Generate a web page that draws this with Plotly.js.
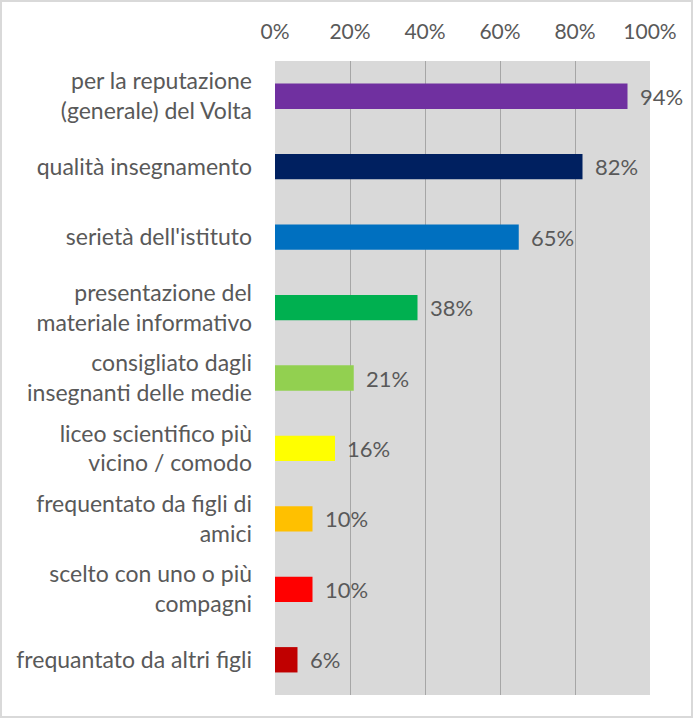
<!DOCTYPE html>
<html>
<head>
<meta charset="utf-8">
<script src="https://cdn.plot.ly/plotly-3.0.1.min.js"></script>
<style>
html,body{margin:0;padding:0;background:#fff;}
#chart{width:693px;height:718px;box-sizing:border-box;border:2px solid #d9d9d9;}
</style>
</head>
<body>
<div id="chart"></div>
<script>
const categories = [
  "per la reputazione<br>(generale) del Volta",
  "qualità insegnamento",
  "serietà dell'istituto",
  "presentazione del<br>materiale informativo",
  "consigliato dagli<br>insegnanti delle medie",
  "liceo scientifico più<br>vicino / comodo",
  "frequentato da figli di<br>amici",
  "scelto con uno o più<br>compagni",
  "frequantato da altri figli"
];
const values = [0.94, 0.82, 0.65, 0.38, 0.21, 0.16, 0.10, 0.10, 0.06];
const colors = ["#7030a0", "#002060", "#0070c0", "#00b050", "#92d050", "#ffff00", "#ffc000", "#ff0000", "#c00000"];
const tickVals = [0, 0.2, 0.4, 0.6, 0.8, 1.0];
const tickText = ["0%", "20%", "40%", "60%", "80%", "100%"];

const FONT = "Lato, 'Open Sans', sans-serif";
const GRAY = "#595959";

const trace = {
  type: "bar",
  orientation: "h",
  y: categories,
  x: values,
  marker: {color: colors, line: {width: 0}},
  width: 0.36,
  hoverinfo: "none"
};

const annotations = values.map((v, i) => ({
  x: v, y: categories[i], xref: "x", yref: "y",
  text: Math.round(v * 100) + "%",
  showarrow: false, xanchor: "left", xshift: 10,
  font: {family: FONT, size: 22, color: GRAY}
}));

const layout = {
  width: 689, height: 714,
  margin: {l: 273, r: 41, t: 59, b: 21},
  paper_bgcolor: "#ffffff",
  plot_bgcolor: "#d9d9d9",
  showlegend: false,
  xaxis: {
    side: "top", range: [0, 1],
    tickvals: tickVals, ticktext: tickText,
    showgrid: true, gridcolor: "#a6a6a6", gridwidth: 1,
    zeroline: false, showline: false, ticks: "",
    ticklabelstandoff: 17,
    tickfont: {family: FONT, size: 21, color: GRAY},
    fixedrange: true
  },
  yaxis: {
    autorange: "reversed",
    showgrid: false, zeroline: false, showline: false, ticks: "",
    ticklabelstandoff: 22,
    tickfont: {family: FONT, size: 23, color: GRAY},
    fixedrange: true
  },
  annotations: annotations
};

Plotly.newPlot("chart", [trace], layout, {displayModeBar: false, staticPlot: true});
</script>
</body>
</html>
